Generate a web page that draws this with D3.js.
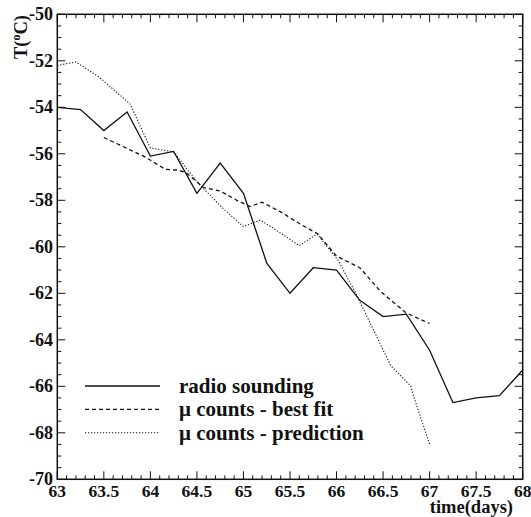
<!DOCTYPE html>
<html>
<head>
<meta charset="utf-8">
<script src="https://cdn.jsdelivr.net/npm/d3@7"></script>
<style>
  html, body { margin: 0; padding: 0; background: #fff; }
  svg { display: block; }
</style>
</head>
<body>
<script>
// ---- data ----
const radioX = [63, 63.25, 63.5, 63.75, 64, 64.25, 64.5, 64.75, 65, 65.25, 65.5, 65.75, 66, 66.25, 66.5, 66.75, 67, 67.25, 67.5, 67.75, 68];
const radioY = [-54.0, -54.1, -55.0, -54.2, -56.1, -55.9, -57.7, -56.4, -57.7, -60.7, -62.0, -60.9, -61.0, -62.3, -63.0, -62.9, -64.45, -66.7, -66.5, -66.4, -65.3];

const fitX = [63.5, 63.95, 64.16, 64.3, 64.38, 64.57, 64.75, 64.93, 65.07, 65.2, 65.4, 65.6, 65.8, 66.0, 66.25, 66.48, 66.75, 67.0];
const fitY = [-55.3, -56.15, -56.67, -56.7, -56.8, -57.45, -57.6, -58.0, -58.27, -58.08, -58.5, -59.0, -59.45, -60.4, -60.9, -61.95, -62.85, -63.3];

const predX = [63.0, 63.2, 63.45, 63.78, 64.0, 64.25, 64.5, 64.78, 65.0, 65.18, 65.32, 65.6, 65.79, 66.02, 66.2, 66.4, 66.58, 66.8, 66.83, 67.0];
const predY = [-52.2, -52.05, -52.7, -53.85, -55.75, -55.92, -57.2, -58.35, -59.13, -58.85, -59.2, -59.95, -59.45, -60.6, -61.95, -63.6, -65.1, -66.0, -66.45, -68.5];

const xTicks = [63, 63.5, 64, 64.5, 65, 65.5, 66, 66.5, 67, 67.5, 68];
const yTicks = [-50, -52, -54, -56, -58, -60, -62, -64, -66, -68, -70];
const legendLabels = ["radio sounding", "\u03bc counts - best fit", "\u03bc counts - prediction"];

// ---- layout ----
const W = 531, H = 517;
const L = 57.3, R = 522.7, T = 14.3, B = 479.3;
const FONT = "'Liberation Serif', 'Times New Roman', Times, 'DejaVu Serif', serif";

const svg = d3.select("body").append("svg").attr("width", W).attr("height", H)
  .attr("font-family", FONT).attr("font-weight", "bold");
const x = d3.scaleLinear().domain([63, 68]).range([L, R]);
const y = d3.scaleLinear().domain([-70, -50]).range([B, T]);

const ink = "#111";

const xMinor = d3.range(0, 51).map(i => 63 + i * 0.1);
const yMinor = d3.range(0, 41).map(i => -70 + i * 0.5);
const isMajorX = v => Math.abs(v * 2 - Math.round(v * 2)) < 1e-6;
const isMajorY = v => Math.abs(v / 2 - Math.round(v / 2)) < 1e-6;

const ticks = svg.append("g").attr("stroke", ink).attr("stroke-width", 1);
xMinor.forEach(v => {
  const len = isMajorX(v) ? 8 : 4;
  ticks.append("line").attr("x1", x(v)).attr("x2", x(v)).attr("y1", B).attr("y2", B - len);
  ticks.append("line").attr("x1", x(v)).attr("x2", x(v)).attr("y1", T).attr("y2", T + len);
});
yMinor.forEach(v => {
  const len = isMajorY(v) ? 8 : 4;
  ticks.append("line").attr("y1", y(v)).attr("y2", y(v)).attr("x1", L).attr("x2", L + len);
  ticks.append("line").attr("y1", y(v)).attr("y2", y(v)).attr("x1", R).attr("x2", R - len);
});

svg.append("rect").attr("x", L).attr("y", T).attr("width", R - L).attr("height", B - T)
  .attr("fill", "none").attr("stroke", ink).attr("stroke-width", 1.5);

svg.append("g").selectAll("text").data(xTicks).join("text")
  .attr("x", d => x(d)).attr("y", 497).attr("text-anchor", "middle")
  .attr("font-size", 17.5).attr("fill", ink).text(d => d3.format("")(d));
svg.append("g").selectAll("text").data(yTicks).join("text")
  .attr("x", 53).attr("y", d => y(d)).attr("dy", "0.33em").attr("text-anchor", "end")
  .attr("font-size", 18).attr("fill", ink).text(d => d);

svg.append("text").attr("x", 513).attr("y", 513).attr("text-anchor", "end")
  .attr("font-size", 18.5).attr("fill", ink).text("time(days)");
const yt = svg.append("text").attr("transform", "translate(27,37) rotate(-90)")
  .attr("text-anchor", "middle").attr("font-size", 18.5).attr("fill", ink);
yt.append("tspan").text("T(");
yt.append("tspan").attr("font-size", 12).attr("dy", -7).text("o");
yt.append("tspan").attr("dy", 7).text("C)");

const line = d3.line().x(d => x(d[0])).y(d => y(d[1]));
const series = [
  { pts: d3.zip(radioX, radioY), dash: null, w: 1.3 },
  { pts: d3.zip(fitX, fitY), dash: "4,3", w: 1.3 },
  { pts: d3.zip(predX, predY), dash: "1.2,1.8", w: 1.1 }
];
series.forEach(s => {
  svg.append("path").attr("d", line(s.pts)).attr("fill", "none")
    .attr("stroke", ink).attr("stroke-width", s.w)
    .attr("stroke-dasharray", s.dash);
});

const legY = [386, 409.3, 432.7];
series.forEach((s, i) => {
  svg.append("line").attr("x1", 85).attr("x2", 160).attr("y1", legY[i]).attr("y2", legY[i])
    .attr("stroke", ink).attr("stroke-width", s.w).attr("stroke-dasharray", s.dash);
  svg.append("text").attr("x", 179).attr("y", legY[i]).attr("dy", "0.33em")
    .attr("font-size", 21).attr("fill", ink).text(legendLabels[i]);
});
</script>
</body>
</html>
